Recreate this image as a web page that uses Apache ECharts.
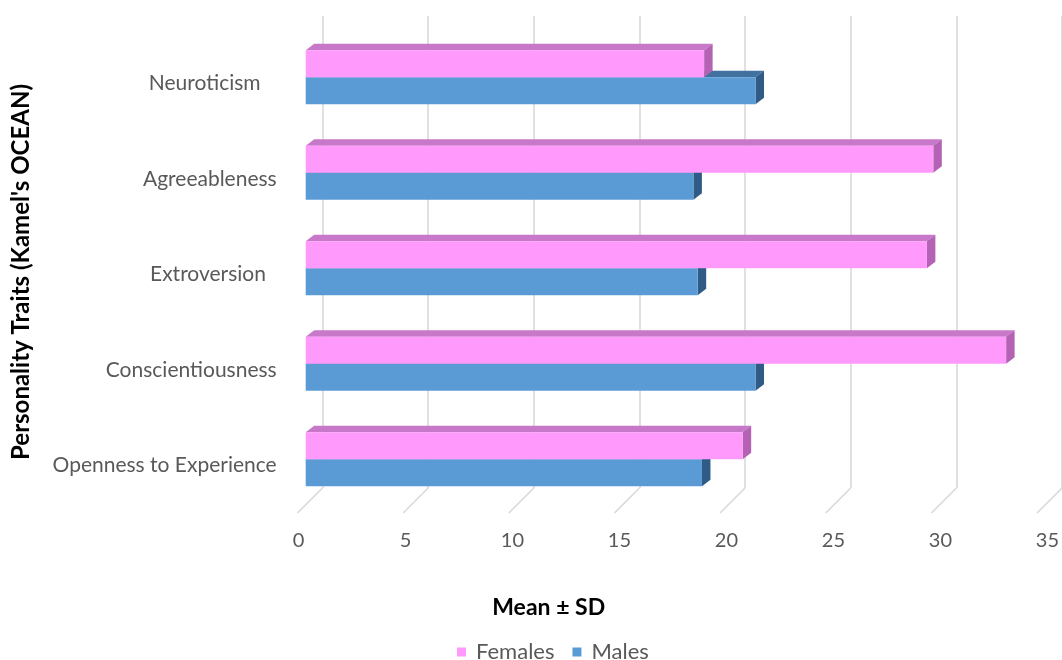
<!DOCTYPE html>
<html>
<head>
<meta charset="utf-8">
<script src="https://cdn.jsdelivr.net/npm/echarts@6/dist/echarts.min.js"></script>
<style>
  html, body { margin: 0; padding: 0; background: #ffffff; }
  #chart { width: 1062px; height: 660px; }
</style>
</head>
<body>
<div id="chart"></div>
<script>
// Mean scores per personality trait, bottom to top on the category axis
const categories = ['Openness to Experience', 'Conscientiousness', 'Extroversion  ', 'Agreeableness', 'Neuroticism   '];
const females = [20.4, 32.7, 29.0, 29.3, 18.6];
const males = [18.5, 21.0, 18.3, 18.1, 21.0];
const xTicks = [0, 5, 10, 15, 20, 25, 30, 35];
const legendNames = ['Females', 'Males'];

const FONT = 'Lato';
const TEXT_GRAY = '#595959';
const GRID_GRAY = '#d9d9d9';

// Oblique offsets used to fake the 3D look
const barDepth = [8.5, -6.5];   // from a bar's front face to its back face
const floorDepth = [-25, 25];   // from the back wall down to the front edge of the floor

const palette = {
  Females: { front: '#ff99fc', top: '#c878c8', side: '#b462b4' },
  Males:   { front: '#5b9bd5', top: '#41729f', side: '#2f5b86' }
};

function prismRenderer(name, upper) {
  const c = palette[name];
  return function (params, api) {
    const cat = api.value(1);
    const val = api.value(0);
    const p0 = api.coord([0, cat]);
    const p1 = api.coord([val, cat]);
    const h = api.size([0, 1])[1] * 0.283;
    const y0 = upper ? p0[1] - h : p0[1];
    const x0 = p0[0], x1 = p1[0];
    const dx = barDepth[0], dy = barDepth[1];
    return {
      type: 'group',
      children: [
        { type: 'polygon', shape: { points: [[x0, y0], [x1, y0], [x1 + dx, y0 + dy], [x0 + dx, y0 + dy]] },
          style: { fill: c.top } },
        { type: 'polygon', shape: { points: [[x1, y0], [x1 + dx, y0 + dy], [x1 + dx, y0 + h + dy], [x1, y0 + h]] },
          style: { fill: c.side } },
        { type: 'rect', shape: { x: x0, y: y0, width: x1 - x0, height: h },
          style: { fill: c.front } }
      ]
    };
  };
}

function floorRenderer(params, api) {
  const p = api.coord([api.value(0), 0]);
  return {
    type: 'line',
    shape: { x1: p[0], y1: p[1], x2: p[0] + floorDepth[0], y2: p[1] + floorDepth[1] },
    style: { stroke: GRID_GRAY, lineWidth: 1.6 }
  };
}

const chart = echarts.init(document.getElementById('chart'), null, { renderer: 'canvas' });

const valueAxisBase = { type: 'value', min: 0, max: 35, interval: 5 };

chart.setOption({
  animation: false,
  backgroundColor: '#ffffff',
  textStyle: { fontFamily: FONT },
  grid: [
    // front plane of the bars
    { left: 305.7, right: 6.6, top: 29.5, bottom: 153 },
    // back wall carrying the vertical gridlines
    { left: 322.5, right: 1062 - 322.5 - 749.7, top: 16, bottom: 172 },
    // front edge of the floor carrying the tick labels
    { left: 298.5, right: 1062 - 298.5 - 749.7, top: 16, bottom: 172 }
  ],
  xAxis: [
    Object.assign({}, valueAxisBase, { gridIndex: 0, show: false }),
    Object.assign({}, valueAxisBase, {
      gridIndex: 1,
      axisLine: { show: false }, axisTick: { show: false }, axisLabel: { show: false },
      splitLine: { show: true, lineStyle: { color: GRID_GRAY, width: 1.6 } }
    }),
    Object.assign({}, valueAxisBase, {
      gridIndex: 2,
      axisLine: { show: false }, axisTick: { show: false }, splitLine: { show: false },
      axisLabel: { color: TEXT_GRAY, fontFamily: FONT, fontSize: 20, margin: 43 }
    })
  ],
  yAxis: [
    {
      type: 'category', gridIndex: 0, data: categories,
      axisLine: { show: false }, axisTick: { show: false }, splitLine: { show: false },
      axisLabel: { color: TEXT_GRAY, fontFamily: FONT, fontSize: 21, margin: 29,
                   verticalAlign: 'top', lineHeight: 12 }
    },
    { type: 'value', gridIndex: 1, min: 0, max: 1, show: false },
    { type: 'value', gridIndex: 2, min: 0, max: 1, show: false }
  ],
  legend: {
    data: legendNames,
    left: 452, top: 636,
    icon: 'rect', itemWidth: 9, itemHeight: 9, itemGap: 18,
    textStyle: { color: TEXT_GRAY, fontFamily: FONT, fontSize: 22, padding: [0, 0, 0, 5] }
  },
  graphic: [
    {
      type: 'text', silent: true, x: 548.7, y: 608,
      style: { text: 'Mean ± SD', fontFamily: FONT, fontWeight: 'bold', fontSize: 23, fill: '#000000',
               align: 'center', verticalAlign: 'middle' }
    },
    {
      type: 'text', silent: true, rotation: Math.PI / 2, x: 21, y: 272,
      style: { text: "Personality Traits (Kamel's OCEAN)", fontFamily: FONT, fontWeight: 'bold', fontSize: 24,
               fill: '#000000', align: 'center', verticalAlign: 'middle' }
    }
  ],
  series: [
    {
      name: 'floor', type: 'custom', xAxisIndex: 1, yAxisIndex: 1, silent: true,
      data: xTicks.map(v => [v, 0]), renderItem: floorRenderer, z: 1
    },
    {
      name: 'Males', type: 'custom', xAxisIndex: 0, yAxisIndex: 0,
      itemStyle: { color: palette.Males.front },
      data: males.map((v, i) => [v, i]), renderItem: prismRenderer('Males', false), z: 3
    },
    {
      name: 'Females', type: 'custom', xAxisIndex: 0, yAxisIndex: 0,
      itemStyle: { color: palette.Females.front },
      data: females.map((v, i) => [v, i]), renderItem: prismRenderer('Females', true), z: 4
    }
  ]
});
</script>
</body>
</html>
